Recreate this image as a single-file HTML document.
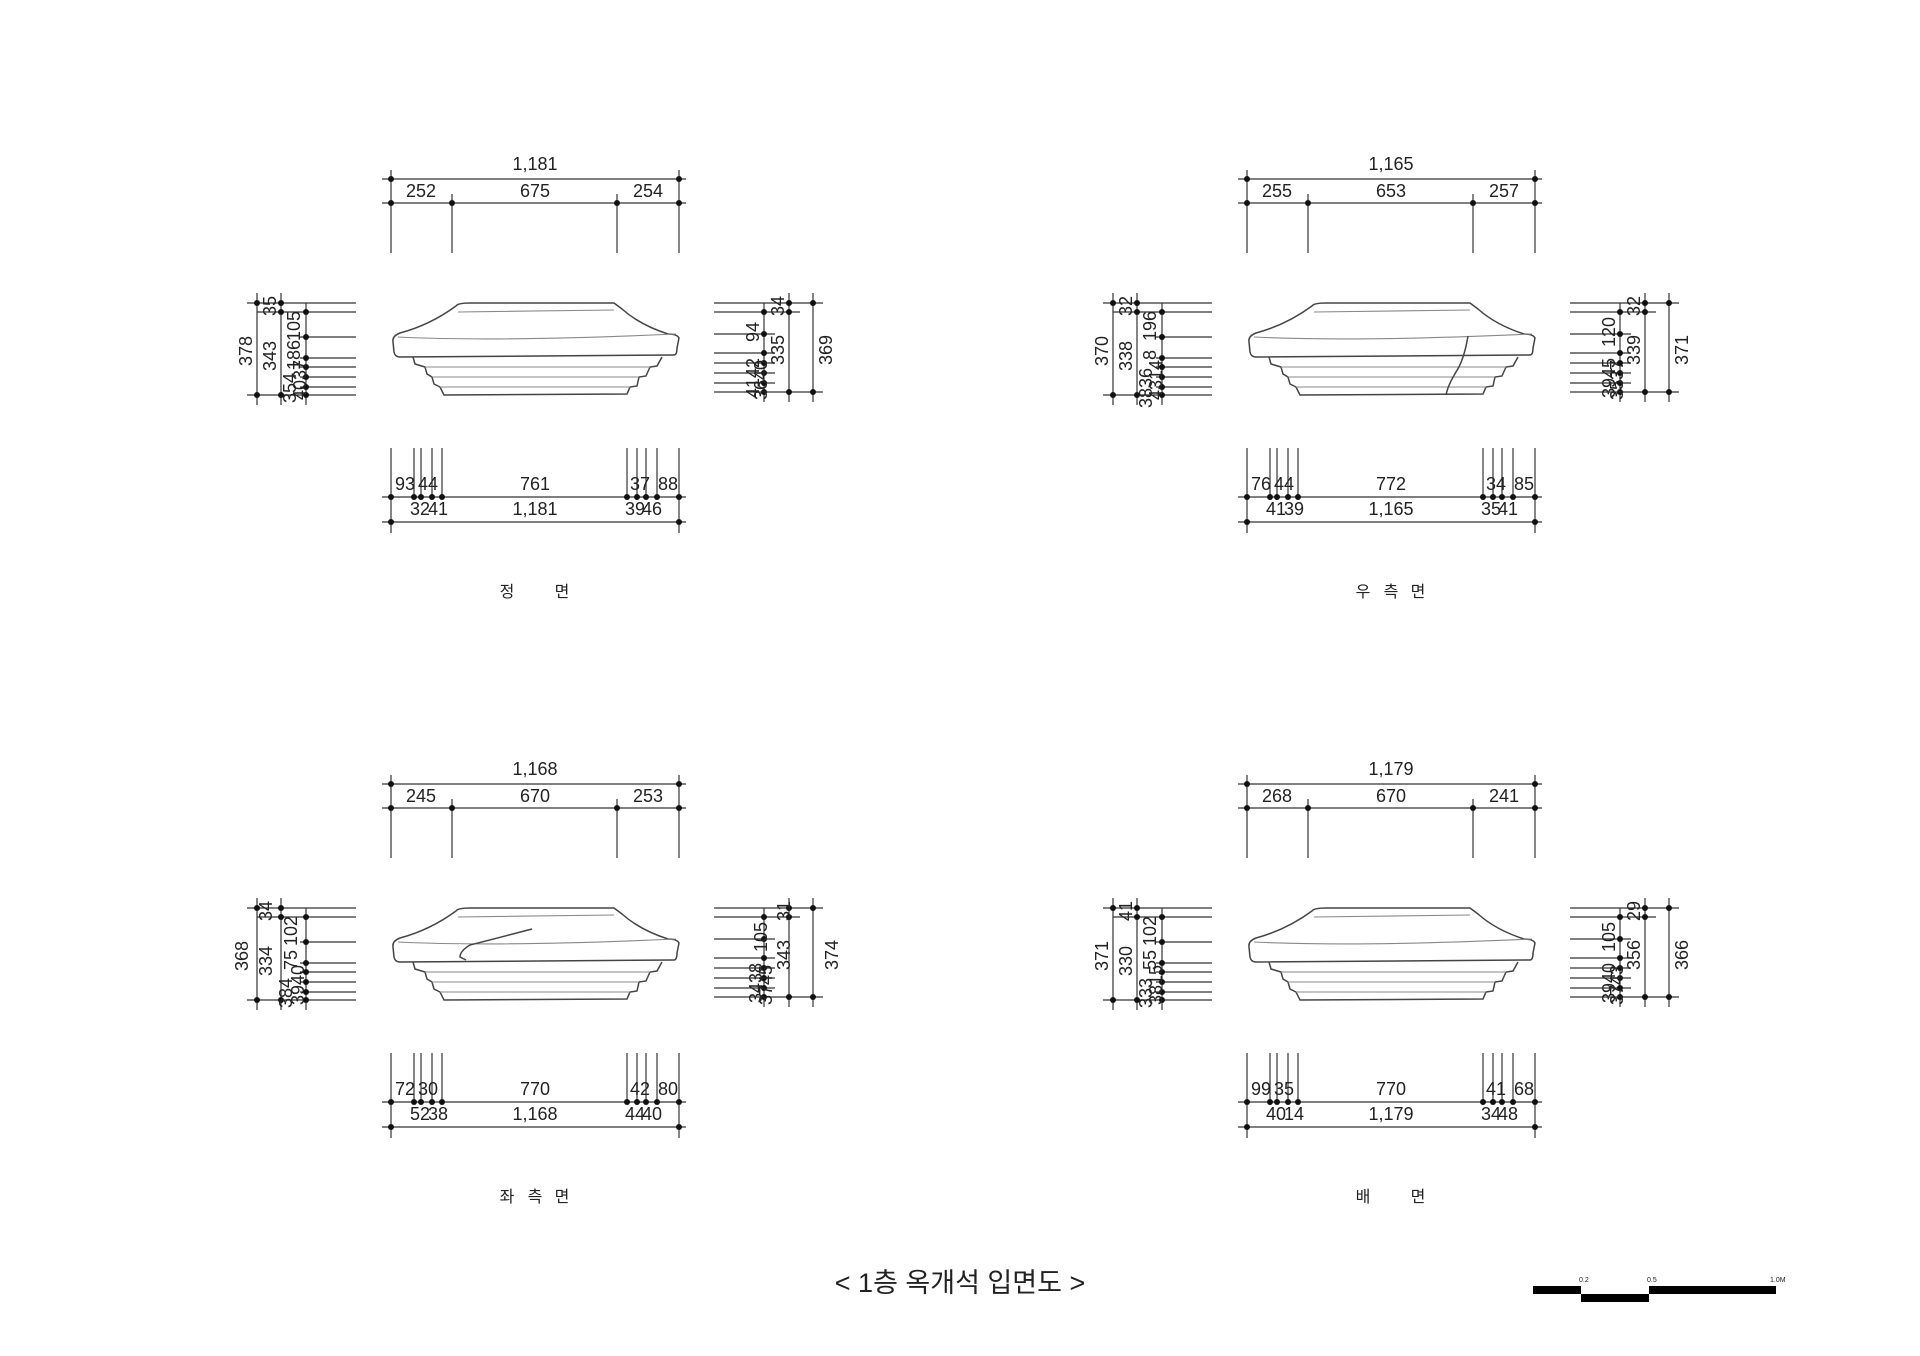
<!DOCTYPE html>
<html><head><meta charset="utf-8"><style>
html,body{margin:0;padding:0;background:#fff}
svg{display:block}
text{font-family:"Liberation Sans","Noto Sans CJK KR",sans-serif;fill:#222}
.d line{stroke:#333;stroke-width:1.2}
.d circle{fill:#111}
.t{font-size:18px;text-anchor:middle}
.s{font-size:16px;text-anchor:middle}
.st{fill:none;stroke:#444;stroke-width:1.5}
.st2{fill:none;stroke:#888;stroke-width:1.1}
</style></head><body>
<svg width="1920" height="1356" viewBox="0 0 1920 1356" xmlns="http://www.w3.org/2000/svg">
<defs>
<g id="frame" class="d">
  <line x1="382" y1="179" x2="686" y2="179"/><line x1="382" y1="203" x2="686" y2="203"/>
  <line x1="391" y1="170" x2="391" y2="253"/><line x1="679" y1="170" x2="679" y2="253"/>
  <line x1="452" y1="194" x2="452" y2="253"/><line x1="617" y1="194" x2="617" y2="253"/>
  <circle cx="391" cy="179" r="3"/><circle cx="679" cy="179" r="3"/>
  <circle cx="391" cy="203" r="3"/><circle cx="452" cy="203" r="3"/><circle cx="617" cy="203" r="3"/><circle cx="679" cy="203" r="3"/>
  <line x1="247" y1="303" x2="356" y2="303"/><line x1="257" y1="312" x2="356" y2="312"/>
  <line x1="300" y1="337" x2="356" y2="337"/><line x1="300" y1="358" x2="356" y2="358"/>
  <line x1="300" y1="367" x2="356" y2="367"/><line x1="300" y1="377" x2="356" y2="377"/>
  <line x1="300" y1="387" x2="356" y2="387"/><line x1="247" y1="395" x2="356" y2="395"/>
  <line x1="257" y1="293" x2="257" y2="405"/><line x1="281" y1="293" x2="281" y2="405"/><line x1="306" y1="303" x2="306" y2="405"/>
  <circle cx="257" cy="303" r="3"/><circle cx="281" cy="303" r="3"/><circle cx="281" cy="312" r="3"/><circle cx="306" cy="312" r="3"/>
  <circle cx="306" cy="337" r="3"/><circle cx="306" cy="358" r="3"/><circle cx="306" cy="367" r="3"/><circle cx="306" cy="377" r="3"/><circle cx="306" cy="387" r="3"/>
  <circle cx="257" cy="395" r="3"/><circle cx="281" cy="395" r="3"/><circle cx="306" cy="395" r="3"/>
  <line x1="714" y1="303" x2="823" y2="303"/><line x1="714" y1="312" x2="800" y2="312"/>
  <line x1="714" y1="334" x2="775" y2="334"/><line x1="714" y1="353" x2="775" y2="353"/>
  <line x1="714" y1="363" x2="775" y2="363"/><line x1="714" y1="373" x2="775" y2="373"/>
  <line x1="714" y1="383" x2="775" y2="383"/><line x1="714" y1="392" x2="823" y2="392"/>
  <line x1="764" y1="303" x2="764" y2="402"/><line x1="789" y1="293" x2="789" y2="402"/><line x1="813" y1="293" x2="813" y2="402"/>
  <circle cx="789" cy="303" r="3"/><circle cx="813" cy="303" r="3"/><circle cx="764" cy="312" r="3"/><circle cx="789" cy="312" r="3"/>
  <circle cx="764" cy="334" r="3"/><circle cx="764" cy="353" r="3"/><circle cx="764" cy="363" r="3"/><circle cx="764" cy="373" r="3"/><circle cx="764" cy="383" r="3"/>
  <circle cx="764" cy="392" r="3"/><circle cx="789" cy="392" r="3"/><circle cx="813" cy="392" r="3"/>
  <line x1="391" y1="448" x2="391" y2="533"/><line x1="679" y1="448" x2="679" y2="533"/>
  <line x1="414" y1="448" x2="414" y2="497"/><line x1="421" y1="448" x2="421" y2="497"/><line x1="432" y1="448" x2="432" y2="497"/><line x1="442" y1="448" x2="442" y2="497"/>
  <line x1="627" y1="448" x2="627" y2="497"/><line x1="637" y1="448" x2="637" y2="497"/><line x1="646" y1="448" x2="646" y2="497"/><line x1="657" y1="448" x2="657" y2="497"/>
  <line x1="382" y1="497" x2="686" y2="497"/><line x1="382" y1="522" x2="686" y2="522"/>
  <circle cx="391" cy="497" r="3"/><circle cx="414" cy="497" r="3"/><circle cx="421" cy="497" r="3"/><circle cx="432" cy="497" r="3"/><circle cx="442" cy="497" r="3"/>
  <circle cx="627" cy="497" r="3"/><circle cx="637" cy="497" r="3"/><circle cx="646" cy="497" r="3"/><circle cx="657" cy="497" r="3"/><circle cx="679" cy="497" r="3"/>
  <circle cx="391" cy="522" r="3"/><circle cx="679" cy="522" r="3"/>
</g>
<g id="stone">
  <path class="st" d="M456,306 Q458,303 470,303 L614,303 L622,309 Q640,325 668,334 Q677,334 679,338 L677,348 Q677,355 674,355 L400,357 Q395,357 394,352 L393,342 Q392,336 400,333 Q430,325 456,306 Z"/>
  <path class="st2" d="M398,337 Q500,342 676,334 M458,312 L614,310"/>
  <path class="st" d="M413,357 L415,364 L425,367 L427,374 L432,377 L434,384 L440,387 L444,395 L627,394 L630,387 L637,386 L639,377 L646,376 L650,367 L657,366 L662,357"/>
  <path class="st2" d="M425,367 L650,367 M432,377 L639,377 M440,387 L630,387"/>
</g>
</defs>

<g>
<use href="#frame"/><use href="#stone"/>
<text class="t" x="535" y="170">1,181</text>
<text class="t" x="421" y="197">252</text><text class="t" x="535" y="197">675</text><text class="t" x="648" y="197">254</text>
<text class="t" x="535" y="490">761</text><text class="t" x="535" y="515">1,181</text>
<text class="t" x="405" y="490">93</text><text class="t" x="428" y="490">44</text><text class="t" x="640" y="490">37</text><text class="t" x="668" y="490">88</text>
<text class="t" x="420" y="515">32</text><text class="t" x="438" y="515">41</text><text class="t" x="635" y="515">39</text><text class="t" x="652" y="515">46</text>
<g class="t">
<text transform="translate(252,351) rotate(-90)">378</text>
<text transform="translate(276,356) rotate(-90)">343</text>
<text transform="translate(276,306) rotate(-90)">35</text>
<text transform="translate(300,326) rotate(-90)">105</text>
<text transform="translate(300,355) rotate(-90)">186</text>
<text transform="translate(296,388) rotate(-90)">354</text>
<text transform="translate(306,380) rotate(-90)">4037</text>
<text transform="translate(784,306) rotate(-90)">34</text>
<text transform="translate(759,332) rotate(-90)">94</text>
<text transform="translate(784,350) rotate(-90)">335</text>
<text transform="translate(832,350) rotate(-90)">369</text>
<text transform="translate(759,378) rotate(-90)">4142</text>
<text transform="translate(767,380) rotate(-90)">3640</text>
</g>
<text class="s" x="507" y="597">정</text><text class="s" x="562" y="597">면</text>
</g>

<g transform="translate(856,0)">
<use href="#frame"/><use href="#stone"/>
<path class="st" d="M612,336 Q608,360 600,372 Q592,385 590,395"/>
<text class="t" x="535" y="170">1,165</text>
<text class="t" x="421" y="197">255</text><text class="t" x="535" y="197">653</text><text class="t" x="648" y="197">257</text>
<text class="t" x="535" y="490">772</text><text class="t" x="535" y="515">1,165</text>
<text class="t" x="405" y="490">76</text><text class="t" x="428" y="490">44</text><text class="t" x="640" y="490">34</text><text class="t" x="668" y="490">85</text>
<text class="t" x="420" y="515">41</text><text class="t" x="438" y="515">39</text><text class="t" x="635" y="515">35</text><text class="t" x="652" y="515">41</text>
<g class="t">
<text transform="translate(252,351) rotate(-90)">370</text>
<text transform="translate(276,356) rotate(-90)">338</text>
<text transform="translate(276,306) rotate(-90)">32</text>
<text transform="translate(300,326) rotate(-90)">196</text>
<text transform="translate(300,355) rotate(-90)">8</text>
<text transform="translate(296,388) rotate(-90)">3836</text>
<text transform="translate(306,380) rotate(-90)">4314</text>
<text transform="translate(784,306) rotate(-90)">32</text>
<text transform="translate(759,332) rotate(-90)">120</text>
<text transform="translate(784,350) rotate(-90)">339</text>
<text transform="translate(832,350) rotate(-90)">371</text>
<text transform="translate(759,378) rotate(-90)">3945</text>
<text transform="translate(767,380) rotate(-90)">3537</text>
</g>
<text class="s" x="507" y="597">우</text><text class="s" x="535" y="597">측</text><text class="s" x="562" y="597">면</text>
</g>

<g transform="translate(0,605)">
<use href="#frame"/><use href="#stone"/>
<path class="st" d="M532,324 Q490,335 470,340 Q460,346 460,352 L466,355"/>
<text class="t" x="535" y="170">1,168</text>
<text class="t" x="421" y="197">245</text><text class="t" x="535" y="197">670</text><text class="t" x="648" y="197">253</text>
<text class="t" x="535" y="490">770</text><text class="t" x="535" y="515">1,168</text>
<text class="t" x="405" y="490">72</text><text class="t" x="428" y="490">30</text><text class="t" x="640" y="490">42</text><text class="t" x="668" y="490">80</text>
<text class="t" x="420" y="515">52</text><text class="t" x="438" y="515">38</text><text class="t" x="635" y="515">44</text><text class="t" x="652" y="515">40</text>
<g class="t">
<text transform="translate(248,351) rotate(-90)">368</text>
<text transform="translate(272,356) rotate(-90)">334</text>
<text transform="translate(272,306) rotate(-90)">34</text>
<text transform="translate(297,326) rotate(-90)">102</text>
<text transform="translate(297,355) rotate(-90)">75</text>
<text transform="translate(292,388) rotate(-90)">384</text>
<text transform="translate(304,380) rotate(-90)">3940</text>
<text transform="translate(790,306) rotate(-90)">31</text>
<text transform="translate(767,332) rotate(-90)">105</text>
<text transform="translate(790,350) rotate(-90)">343</text>
<text transform="translate(838,350) rotate(-90)">374</text>
<text transform="translate(762,378) rotate(-90)">3438</text>
<text transform="translate(772,380) rotate(-90)">3745</text>
</g>
<text class="s" x="507" y="597">좌</text><text class="s" x="535" y="597">측</text><text class="s" x="562" y="597">면</text>
</g>

<g transform="translate(856,605)">
<use href="#frame"/><use href="#stone"/>
<text class="t" x="535" y="170">1,179</text>
<text class="t" x="421" y="197">268</text><text class="t" x="535" y="197">670</text><text class="t" x="648" y="197">241</text>
<text class="t" x="535" y="490">770</text><text class="t" x="535" y="515">1,179</text>
<text class="t" x="405" y="490">99</text><text class="t" x="428" y="490">35</text><text class="t" x="640" y="490">41</text><text class="t" x="668" y="490">68</text>
<text class="t" x="420" y="515">40</text><text class="t" x="438" y="515">14</text><text class="t" x="635" y="515">34</text><text class="t" x="652" y="515">48</text>
<g class="t">
<text transform="translate(252,351) rotate(-90)">371</text>
<text transform="translate(276,356) rotate(-90)">330</text>
<text transform="translate(276,306) rotate(-90)">41</text>
<text transform="translate(300,326) rotate(-90)">102</text>
<text transform="translate(300,355) rotate(-90)">55</text>
<text transform="translate(296,388) rotate(-90)">333</text>
<text transform="translate(306,380) rotate(-90)">3815</text>
<text transform="translate(784,306) rotate(-90)">29</text>
<text transform="translate(759,332) rotate(-90)">105</text>
<text transform="translate(784,350) rotate(-90)">356</text>
<text transform="translate(832,350) rotate(-90)">366</text>
<text transform="translate(759,378) rotate(-90)">3940</text>
<text transform="translate(767,380) rotate(-90)">3743</text>
</g>
<text class="s" x="507" y="597">배</text><text class="s" x="562" y="597">면</text>
</g>

<text x="960" y="1292" style="font-size:27px;text-anchor:middle">&lt; 1층 옥개석 입면도 &gt;</text>

<rect x="1533" y="1286" width="48" height="8" fill="#000"/>
<rect x="1581" y="1294" width="68" height="8" fill="#000"/>
<rect x="1649" y="1286" width="127" height="8" fill="#000"/>
<text x="1579" y="1282" style="font-size:7px">0.2</text>
<text x="1647" y="1282" style="font-size:7px">0.5</text>
<text x="1770" y="1282" style="font-size:7px">1.0M</text>
</svg>
</body></html>
